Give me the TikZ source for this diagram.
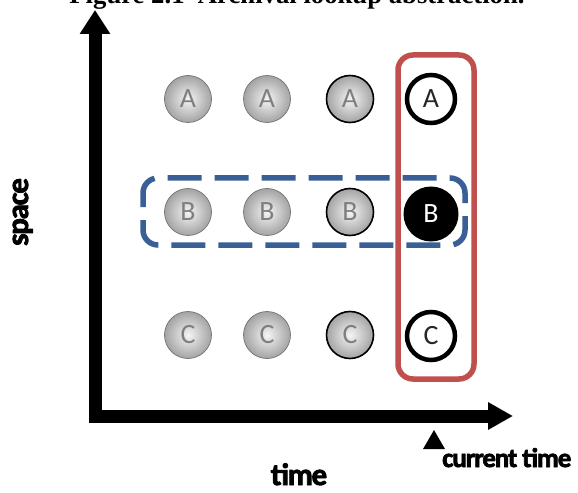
\documentclass[tikz,border=0pt]{standalone}
\usepackage{fontspec}
\setmainfont{Liberation Serif}
\newfontfamily\carlito{Carlito}
\newfontfamily\heavy{Carlito}[BoldFeatures={FakeBold=2.5, LetterSpace=-4}]
\usetikzlibrary{arrows.meta,shapes.geometric}
\definecolor{boxred}{HTML}{C0504D}
\definecolor{boxblue}{HTML}{3A5F96}
\definecolor{lettergray}{HTML}{7F7F7F}
\tikzset{
  ball/.style={circle, minimum size=47bp, inner sep=0pt, shading=radial,
    inner color=white!92!gray, outer color=gray!72, draw=black!55, line width=0.7bp,
    font=\carlito\fontsize{28}{28}\selectfont, text=lettergray},
  ballk/.style={ball, draw=black, line width=1.6bp},
  openball/.style={circle, minimum size=48bp, inner sep=0pt, fill=white, draw=black,
    line width=4.5bp, font=\carlito\fontsize{28}{28}\selectfont, text=black!85},
  darkball/.style={circle, minimum size=55bp, inner sep=0pt, fill=black,
    font=\carlito\fontsize{28}{28}\selectfont, text=white},
  axis/.style={line width=13bp, line join=miter,
    {Triangle[width=29bp,length=24bp]}-{Triangle[width=26bp,length=25bp]}},
  redbox/.style={draw=boxred, line width=5.5bp, rounded corners=15bp},
  bluebox/.style={draw=boxblue, line width=5.5bp, rounded corners=15bp,
    dash pattern=on 34bp off 13bp, dash phase=20bp},
  lbl/.style={inner sep=0pt, font=\heavy\bfseries\fontsize{31}{31}\selectfont},
}
\begin{document}
\begin{tikzpicture}[x=1bp,y=-1bp]
\useasboundingbox (0,0) rectangle (578,493);
% title (top clipped as in the reference)
\node[anchor=base, inner sep=0pt, font=\bfseries\fontsize{26.8}{27}\selectfont] (title) at (297,4) {Figure 2.1\ \ Archival lookup abstraction.};
% axes
\coordinate (ytop) at (95,10);
\coordinate (origin) at (95,416);
\coordinate (xend) at (513,416);
\draw[axis] (ytop) -- (origin) -- (xend);
% blue dashed box
\draw[bluebox] (143,178) rectangle (465,245);
% circles
\node[ball] (a1) at (188,99) {A};
\node[ball] (a2) at (267,99) {A};
\node[ballk] (a3) at (350,99) {A};
\node[openball] (a4) at (431,99) {A};
\node[ball] (b1) at (188,212) {B};
\node[ball] (b2) at (267,212) {B};
\node[ballk] (b3) at (350,212) {B};
\node[darkball] (b4) at (431,214) {B};
\node[ball] (c1) at (188,335) {C};
\node[ball] (c2) at (267,335) {C};
\node[ballk] (c3) at (350,335) {C};
\node[openball] (c4) at (431,336) {C};
% red box
\draw[redbox] (398,55) rectangle (474,379);
% current time marker
\node[regular polygon, regular polygon sides=3, fill=black, inner sep=0pt, minimum size=25.4bp] (marker) at (434,442.7) {};
\node[lbl, anchor=base west, font=\heavy\bfseries\fontsize{27}{27}\selectfont] (ctime) at (442,467) {current time};
% axis labels
\node[lbl, anchor=base] (time) at (299,485) {time};
\node[lbl, anchor=base, rotate=90] (space) at (28,212) {space};
\end{tikzpicture}
\end{document}
